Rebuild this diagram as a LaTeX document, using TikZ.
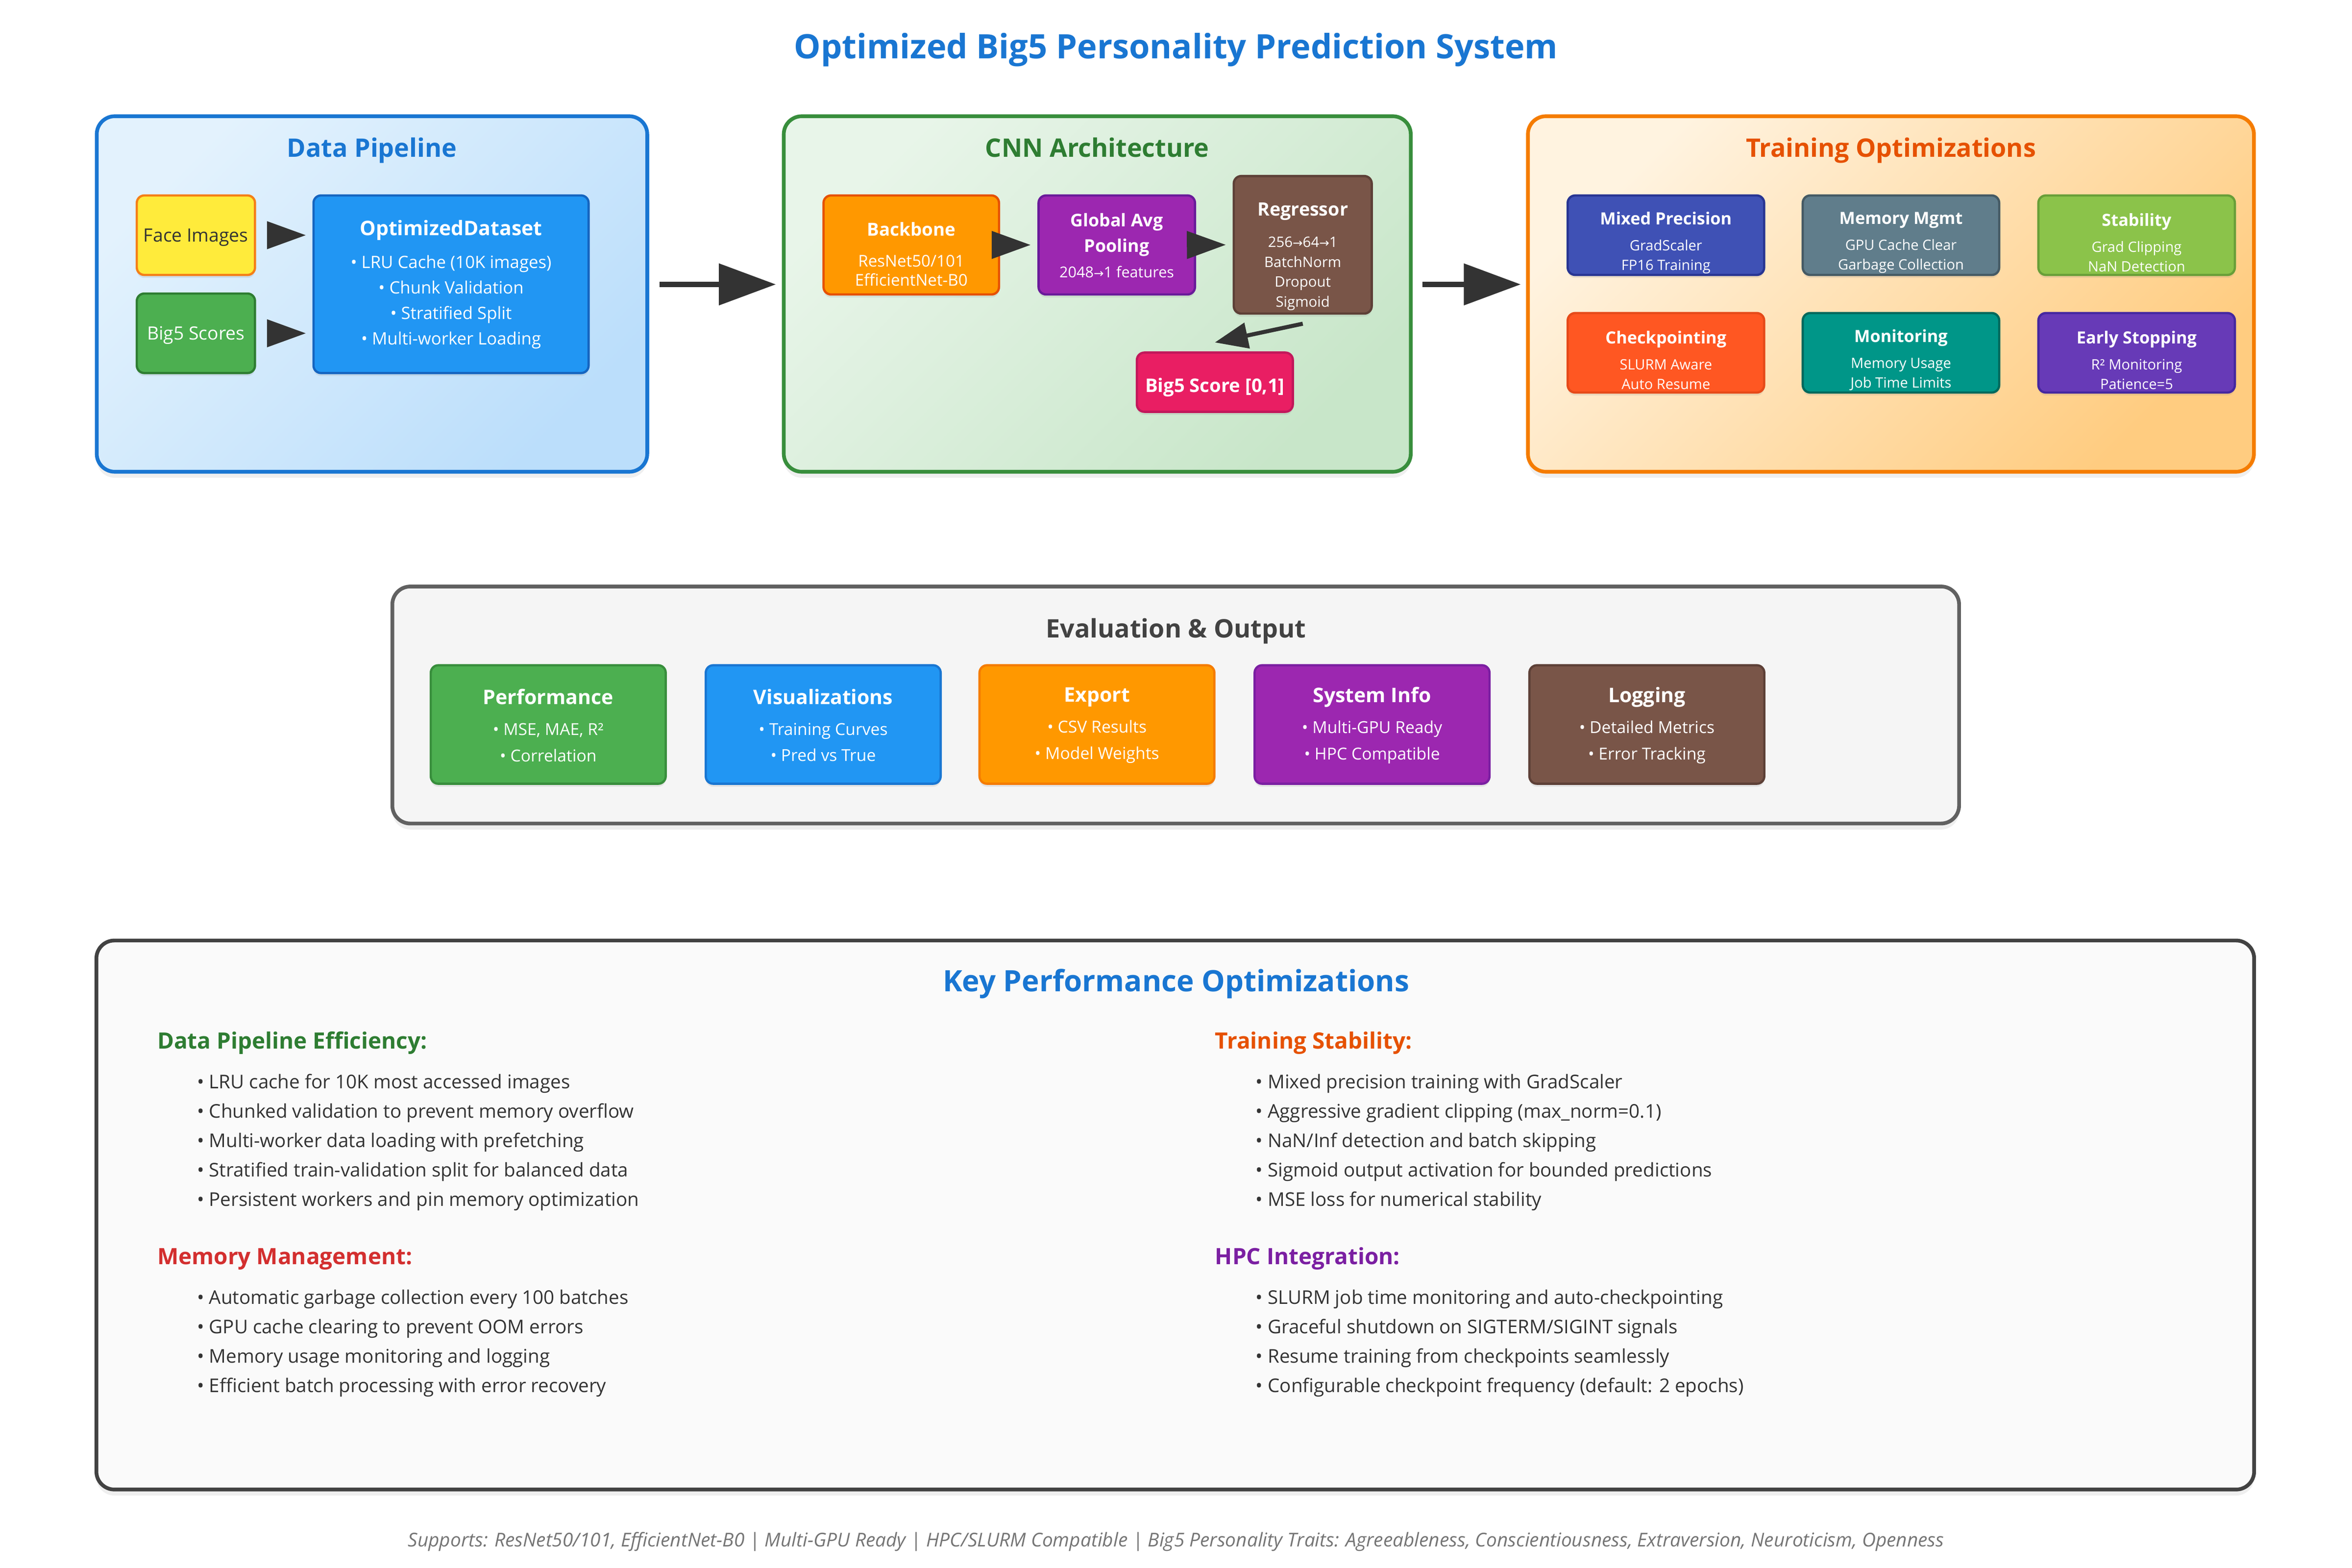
\documentclass[tikz,border=0pt]{standalone}
\usepackage{fontspec}
\setmainfont{Open Sans}
\newfontfamily\arw{DejaVu Sans}
\usepackage{xcolor}
\usepackage{tikz}
\usetikzlibrary{calc}
\usetikzlibrary{arrows.meta}
\usetikzlibrary{shapes}
\usetikzlibrary{shadows}

\definecolor{tblue}{HTML}{1976D2}
\definecolor{dark}{HTML}{333333}
\definecolor{arr}{HTML}{333333}
\definecolor{foot}{HTML}{757575}
\definecolor{dpB}{HTML}{1976D2}
\definecolor{dpL}{HTML}{E3F2FD}
\definecolor{dpD}{HTML}{BBDEFB}
\definecolor{cnB}{HTML}{388E3C}
\definecolor{cnL}{HTML}{E8F5E9}
\definecolor{cnD}{HTML}{C8E6C9}
\definecolor{cnT}{HTML}{2E7D32}
\definecolor{trB}{HTML}{F57C00}
\definecolor{trL}{HTML}{FFF3E0}
\definecolor{trD}{HTML}{FFCC80}
\definecolor{trT}{HTML}{E65100}
\definecolor{evB}{HTML}{616161}
\definecolor{evF}{HTML}{F5F5F5}
\definecolor{evT}{HTML}{424242}
\definecolor{kyB}{HTML}{424242}
\definecolor{kyF}{HTML}{FAFAFA}
\definecolor{secG}{HTML}{2E7D32}
\definecolor{secR}{HTML}{D32F2F}
\definecolor{secO}{HTML}{E65100}
\definecolor{secP}{HTML}{7B1FA2}
\definecolor{yelF}{HTML}{FFEB3B}
\definecolor{yelB}{HTML}{F57F17}
\definecolor{grnF}{HTML}{4CAF50}
\definecolor{grnB}{HTML}{2E7D32}
\definecolor{bluF}{HTML}{2196F3}
\definecolor{bluB}{HTML}{1565C0}
\definecolor{orgF}{HTML}{FF9800}
\definecolor{orgB}{HTML}{E65100}
\definecolor{purF}{HTML}{9C27B0}
\definecolor{purB}{HTML}{6A1B9A}
\definecolor{brnF}{HTML}{795548}
\definecolor{brnB}{HTML}{5D4037}
\definecolor{pnkF}{HTML}{E91E63}
\definecolor{pnkB}{HTML}{C2185B}
\definecolor{indF}{HTML}{3F51B5}
\definecolor{indB}{HTML}{283593}
\definecolor{gryF}{HTML}{607D8B}
\definecolor{gryB}{HTML}{455A64}
\definecolor{limF}{HTML}{8BC34A}
\definecolor{limB}{HTML}{689F38}
\definecolor{redF}{HTML}{FF5722}
\definecolor{redB}{HTML}{E64A19}
\definecolor{tealF}{HTML}{009688}
\definecolor{tealB}{HTML}{00695C}
\definecolor{vioF}{HTML}{673AB7}
\definecolor{vioB}{HTML}{4527A0}

\newcommand{\bt}[2]{{\bfseries\fontsize{#1}{#1}\selectfont #2}}
\newcommand{\toar}{{\arw\fontsize{8}{8}\selectfont →}}

\tikzset{>=latex}
\tikzstyle{panel} = [rectangle, rounded corners=12pt, line width=2.5pt, drop shadow={opacity=0.12, shadow xshift=0pt, shadow yshift=-4pt}]
\tikzstyle{box} = [rectangle, rounded corners=5pt, line width=1.5pt, drop shadow={opacity=0.15, shadow xshift=0pt, shadow yshift=-2pt}]
\tikzstyle{txt} = [text=white, align=center, inner sep=0pt]
\tikzstyle{ptitle} = [anchor=base, inner sep=0pt, font=\bfseries\fontsize{17}{20}\selectfont]
\tikzstyle{flow} = [-{Triangle[length=26pt,width=18pt]}, line width=2.7pt, draw=arr]
\tikzstyle{bigflow} = [-{Triangle[length=38pt,width=27pt]}, line width=3.8pt, draw=arr]
\tikzstyle{sec} = [anchor=base west, inner sep=0pt, font=\bfseries\fontsize{15}{18}\selectfont]
\tikzstyle{blist} = [anchor=west, inner sep=0pt, align=left, text=dark, font=\fontsize{12.6}{19.6}\selectfont]

\begin{document}
\begin{tikzpicture}[x=1pt, y=-1pt]
\fill [white] (0,0) rectangle (1568,1045.3);
\useasboundingbox (0,0) rectangle (1568,1045.3);

\node [anchor=base, inner sep=0pt, font=\bfseries\fontsize{22.4}{26}\selectfont, text=tblue] (T) at (784,39) {Optimized Big5 Personality Prediction System};

\node [panel, draw=dpB, top color=dpL, bottom color=dpD, shading angle=45, minimum width=367pt, minimum height=237pt] (DP) at (248,196) {};
\node [panel, draw=cnB, top color=cnL, bottom color=cnD, shading angle=45, minimum width=418pt, minimum height=237pt] (CNN) at (731.5,196) {};
\node [panel, draw=trB, top color=trL, bottom color=trD, shading angle=45, minimum width=484pt, minimum height=237pt] (TR) at (1260.6,196) {};
\node [panel, draw=evB, fill=evF, minimum width=1044.5pt, minimum height=158pt] (EV) at (783.8,470) {};
\node [panel, draw=kyB, fill=kyF, minimum width=1438.5pt, minimum height=366pt] (KP) at (783.5,810) {};

\node [ptitle, text=dpB] (DPt) at (248,104.8) {Data Pipeline};
\node [ptitle, text=cnT] (CNNt) at (731.5,104.8) {CNN Architecture};
\node [ptitle, text=trT] (TRt) at (1260.6,104.8) {Training Optimizations};
\node [ptitle, text=evT] (EVt) at (784,425) {Evaluation \& Output};
\node [anchor=base, inner sep=0pt, font=\bfseries\fontsize{19.6}{23}\selectfont, text=tblue] (KPt) at (784,661) {Key Performance Optimizations};

\node [box, fill=yelF, draw=yelB, minimum width=78.8pt, minimum height=53pt, text=dark, text height=8.8pt, text depth=0pt, font=\fontsize{12.2}{14}\selectfont] (FI) at (130.6,156.8) {Face Images};
\node [box, fill=grnF, draw=grnB, minimum width=78.8pt, minimum height=53pt, text=white, text height=8.8pt, text depth=0pt, font=\fontsize{12.2}{14}\selectfont] (BS) at (130.6,222.2) {Big5 Scores};
\node [box, fill=bluF, draw=bluB, minimum width=183.4pt, minimum height=118.4pt] (OD) at (300.7,189.5) {};
\node [txt, font=\fontsize{11.35}{17}\selectfont] (ODt) at (300.7,189.6) {\bt{13.4}{OptimizedDataset}\\[5pt] • LRU Cache (10K images)\\ • Chunk Validation\\ • Stratified Split\\ • Multi-worker Loading};

\node [box, fill=orgF, draw=orgB, minimum width=117pt, minimum height=66pt] (BB) at (607.5,163.3) {};
\node [txt, font=\fontsize{10.8}{13}\selectfont] (BBt) at (607.5,169.5) {\bt{12}{Backbone}\\[7.5pt] ResNet50/101\\ EfficientNet-B0};
\node [box, fill=purF, draw=purB, minimum width=104.3pt, minimum height=66pt] (GP) at (744.5,163.3) {};
\node [txt, font=\bfseries\fontsize{11.7}{17}\selectfont] (GPt) at (744.5,163.6) {Global Avg\\ Pooling\\ {\mdseries\fontsize{10}{12}\selectfont 2048\toar 1 features}};
\node [box, fill=brnF, draw=brnB, minimum width=92pt, minimum height=91.7pt] (RG) at (868.5,163.2) {};
\node [txt, font=\fontsize{9.6}{13.2}\selectfont] (RGt) at (868.5,171) {\bt{12.3}{Regressor}\\[7.8pt] 256\toar 64\toar 1\\ BatchNorm\\ Dropout\\ Sigmoid};
\node [box, fill=pnkF, draw=pnkB, minimum width=104pt, minimum height=39.5pt, text=white, text height=13.4pt, text depth=0pt, font=\bfseries\fontsize{12.5}{15}\selectfont] (SC) at (809.9,254.8) {Big5 Score [0,1]};

\node [box, fill=indF, draw=indB, minimum width=131pt, minimum height=53pt] (MP) at (1110.6,156.8) {};
\node [txt, font=\fontsize{9.5}{13.1}\selectfont] (MPt) at (1110.6,161.8) {\bt{11.2}{Mixed Precision}\\[4.2pt] GradScaler\\ FP16 Training};
\node [box, fill=gryF, draw=gryB, minimum width=131pt, minimum height=53pt] (MM) at (1267.3,156.8) {};
\node [txt, font=\fontsize{9.5}{13.1}\selectfont] (MMt) at (1267.3,161.8) {\bt{11.2}{Memory Mgmt}\\[4.2pt] GPU Cache Clear\\ Garbage Collection};
\node [box, fill=limF, draw=limB, minimum width=131pt, minimum height=53pt] (ST) at (1424.4,156.8) {};
\node [txt, font=\fontsize{9.5}{13.1}\selectfont] (STt) at (1424.4,161.8) {\bt{11.2}{Stability}\\[4.2pt] Grad Clipping\\ NaN Detection};
\node [box, fill=redF, draw=redB, minimum width=131pt, minimum height=53pt] (CK) at (1110.6,235.2) {};
\node [txt, font=\fontsize{9.5}{13.1}\selectfont] (CKt) at (1110.6,240.1) {\bt{11.2}{Checkpointing}\\[4.2pt] SLURM Aware\\ Auto Resume};
\node [box, fill=tealF, draw=tealB, minimum width=131pt, minimum height=53pt] (MO) at (1267.3,235.2) {};
\node [txt, font=\fontsize{9.5}{13.1}\selectfont] (MOt) at (1267.3,240.1) {\bt{11.2}{Monitoring}\\[4.2pt] Memory Usage\\ Job Time Limits};
\node [box, fill=vioF, draw=vioB, minimum width=131pt, minimum height=53pt] (ES) at (1424.4,235.2) {};
\node [txt, font=\fontsize{9.5}{13.1}\selectfont] (ESt) at (1424.4,240.1) {\bt{11.2}{Early Stopping}\\[4.2pt] R² Monitoring\\ Patience=5};

\node [box, fill=grnF, draw=cnB, minimum width=156.6pt, minimum height=79pt] (PF) at (365.5,483) {};
\node [txt, font=\fontsize{11}{17.5}\selectfont] (PFt) at (365.5,483.6) {\bt{13.4}{Performance}\\[3pt] • MSE, MAE, R²\\ • Correlation};
\node [box, fill=bluF, draw=tblue, minimum width=156.6pt, minimum height=79pt] (VZ) at (548.8,483) {};
\node [txt, font=\fontsize{11}{17.5}\selectfont] (VZt) at (548.8,483.6) {\bt{13.4}{Visualizations}\\[3pt] • Training Curves\\ • Pred vs True};
\node [box, fill=orgF, draw=trB, minimum width=156.6pt, minimum height=79pt] (EX) at (731.3,483) {};
\node [txt, font=\fontsize{11}{17.5}\selectfont] (EXt) at (731.3,483.6) {\bt{13.4}{Export}\\[3pt] • CSV Results\\ • Model Weights};
\node [box, fill=purF, draw=secP, minimum width=156.6pt, minimum height=79pt] (SI) at (914.7,483) {};
\node [txt, font=\fontsize{11}{17.5}\selectfont] (SIt) at (914.7,483.6) {\bt{13.4}{System Info}\\[3pt] • Multi-GPU Ready\\ • HPC Compatible};
\node [box, fill=brnF, draw=brnB, minimum width=156.6pt, minimum height=79pt] (LG) at (1097.9,483) {};
\node [txt, font=\fontsize{11}{17.5}\selectfont] (LGt) at (1097.9,483.6) {\bt{13.4}{Logging}\\[3pt] • Detailed Metrics\\ • Error Tracking};

\node [sec, text=secG] (H1) at (104.7,699.3) {Data Pipeline Efficiency:};
\node [blist] (L1) at (131.2,761.5) {• LRU cache for 10K most accessed images\\ • Chunked validation to prevent memory overflow\\ • Multi-worker data loading with prefetching\\ • Stratified train-validation split for balanced data\\ • Persistent workers and pin memory optimization};
\node [sec, text=secR] (H2) at (104.7,843) {Memory Management:};
\node [blist] (L2) at (131.2,895.5) {• Automatic garbage collection every 100 batches\\ • GPU cache clearing to prevent OOM errors\\ • Memory usage monitoring and logging\\ • Efficient batch processing with error recovery};
\node [sec, text=secO] (H3) at (809.9,699.3) {Training Stability:};
\node [blist] (L3) at (837,761.5) {• Mixed precision training with GradScaler\\ • Aggressive gradient clipping (max\_norm=0.1)\\ • NaN/Inf detection and batch skipping\\ • Sigmoid output activation for bounded predictions\\ • MSE loss for numerical stability};
\node [sec, text=secP] (H4) at (809.9,843) {HPC Integration:};
\node [blist] (L4) at (837,895.5) {• SLURM job time monitoring and auto-checkpointing\\ • Graceful shutdown on SIGTERM/SIGINT signals\\ • Resume training from checkpoints seamlessly\\ • Configurable checkpoint frequency (default: 2 epochs)};

\node [anchor=base, inner sep=0pt, font=\itshape\fontsize{12.68}{15}\selectfont, text=foot] (F) at (784,1031.2) {Supports: ResNet50/101, EfficientNet-B0 | Multi-GPU Ready | HPC/SLURM Compatible | Big5 Personality Traits: Agreeableness, Conscientiousness, Extraversion, Neuroticism, Openness};

\draw [flow, shorten <=7.5pt, shorten >=4.3pt] (FI.east) -- (FI.east -| OD.west);
\draw [flow, shorten <=7.5pt, shorten >=4.3pt] (BS.east) -- (BS.east -| OD.west);
\draw [bigflow, shorten <=7pt, shorten >=4pt] ([yshift=6.4pt]DP.east) -- ([yshift=6.4pt]CNN.west);
\draw [bigflow, shorten <=6.5pt, shorten >=3.5pt] ([yshift=6.4pt]CNN.east) -- ([yshift=6.4pt]TR.west);
\draw [flow, shorten >=4.5pt] (BB.east) -- (GP.west);
\draw [flow, shorten >=4.5pt] (GP.east) -- (RG.west);
\draw [flow, -{Triangle[length=22pt,width=17pt]}] ($(RG.south)+(0,6)$) -- ($(SC.north)+(0,-6)$);
\end{tikzpicture}
\end{document}
